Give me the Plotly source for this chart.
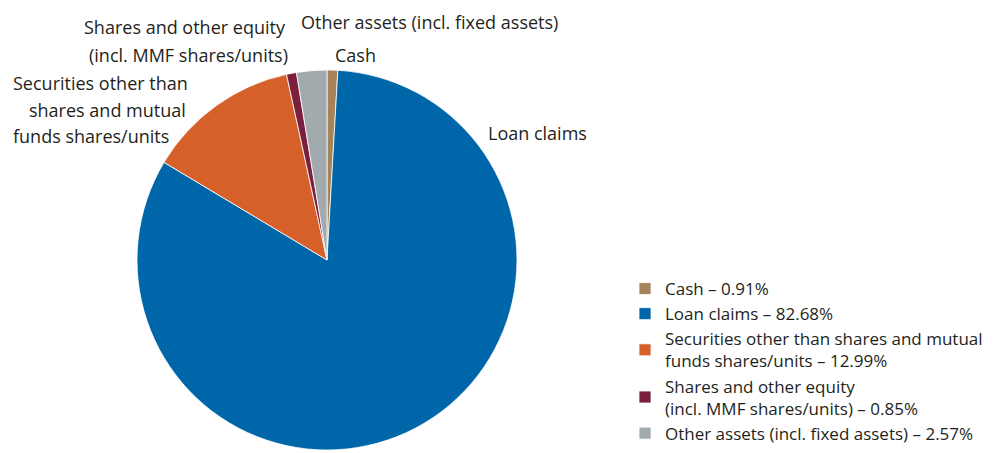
import plotly.graph_objects as go

categories = ["Cash", "Loan claims", "Securities other than shares and mutual<br>funds shares/units",
              "Shares and other equity<br>(incl. MMF shares/units)", "Other assets (incl. fixed assets)"]
values = [0.91, 82.68, 12.99, 0.85, 2.57]
colors = ["#A5845A", "#0066AA", "#D5602A", "#7A1F3D", "#A3AAAE"]
legend_labels = [f"{c} – {v:.2f}%" for c, v in zip(categories, values)]

# slice label lines and their intended on-screen centres (px)
label_lines = ["Cash", "Loan claims",
               "Securities other than", "shares and mutual", "funds shares/units",
               "Shares and other equity", "(incl. MMF shares/units)",
               "Other assets (incl. fixed assets)"]
label_pos = [(355, 55), (537, 133),
             (100, 83), (107, 110), (91, 136),
             (185, 27), (188, 55),
             (429, 22)]
OFF = 8  # the page body adds an 8px offset

W, H = 997, 453
FONT = "Open Sans"
TXT = "#231F20"
FS = 18

fig = go.Figure(go.Pie(
    labels=legend_labels, values=values, sort=False, direction="clockwise", rotation=0,
    marker=dict(colors=colors, line=dict(color="white", width=0.8)),
    textinfo="none", hoverinfo="label",
    domain=dict(x=[129 / W, 509 / W], y=[1 - 442 / H, 1 - 62 / H]),
))

for lab, (px, py) in zip(label_lines, label_pos):
    fig.add_annotation(text=lab, x=(px - OFF) / W, y=1 - (py - OFF) / H, xref="paper", yref="paper",
                       showarrow=False, xanchor="center", yanchor="middle",
                       font=dict(family=FONT, size=FS, color=TXT), align="center")

fig.update_layout(
    width=W, height=H, margin=dict(l=0, r=0, t=0, b=0),
    paper_bgcolor="white", plot_bgcolor="white",
    font=dict(family=FONT, size=FS, color=TXT),
    legend=dict(x=617 / W, y=1 - 263 / H, xanchor="left", yanchor="top",
                font=dict(family=FONT, size=17, color=TXT), bgcolor="rgba(0,0,0,0)",
                traceorder="normal"),
    showlegend=True,
)

fig.write_html("out.html")
